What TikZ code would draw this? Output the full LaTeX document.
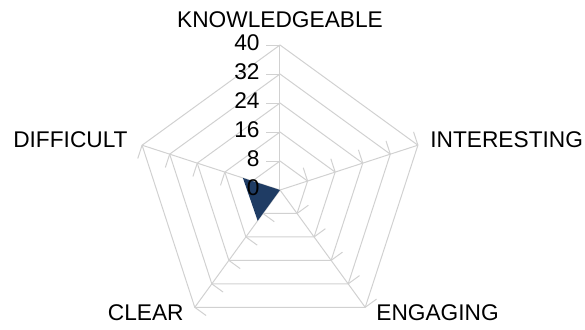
\documentclass[tikz,border=0pt]{standalone}
\usepackage{fontspec}
\setmainfont{Liberation Sans}
\usepackage{tikz}
\definecolor{chartnavy}{RGB}{31,60,100}

\begin{document}
\begin{tikzpicture}[x=0.5pt,y=0.5pt,
  gridline/.style={draw=black!18, line width=0.5pt},
  axislabel/.style={font=\fontsize{11.35}{13}\selectfont, inner sep=0pt},
  scalelabel/.style={font=\fontsize{11.35}{13}\selectfont, inner sep=0pt, anchor=east}]
\useasboundingbox (-280,-139) rectangle (305,190);
\coordinate (o) at (0,0);
\foreach \a [count=\i] in {90,18,-54,-126,162} {
  \coordinate (ax\i) at (\a:145);
  \draw [gridline] (o) -- (ax\i);
  \foreach \r in {29,58,87,116,145}
    \draw [gridline] (\a:\r) -- ++(\a+90:14);
}
\foreach \r in {29,58,87,116,145}
  \draw [gridline] (90:\r) -- (18:\r) -- (-54:\r) -- (-126:\r) -- (162:\r) -- cycle;
\coordinate (clearval) at (-126:38);
\coordinate (diffval) at (162:39);
\fill [chartnavy] (o) -- (clearval) -- (diffval) -- cycle;
\foreach \v/\r in {0/0,8/29,16/58,24/87,32/116,40/145}
  \node [scalelabel] (s\v) at (-20,\r+2) {\v};
\node [axislabel] (know) at (0,170) {KNOWLEDGEABLE};
\node [axislabel, anchor=west] (inter) at (150,50) {INTERESTING};
\node [axislabel, anchor=west] (engag) at (96,-123) {ENGAGING};
\node [axislabel, anchor=east] (clear) at (-96,-123) {CLEAR};
\node [axislabel, anchor=east] (diff) at (-152,50) {DIFFICULT};
\end{tikzpicture}
\end{document}
